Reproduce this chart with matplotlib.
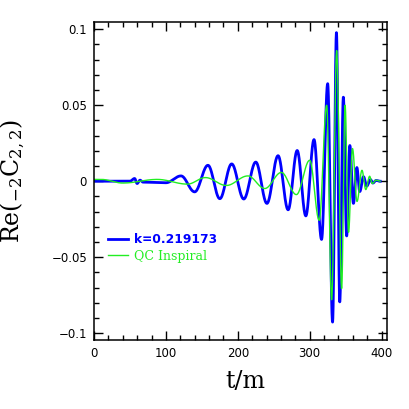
import numpy as np
import matplotlib
matplotlib.use("Agg")
import matplotlib.pyplot as plt
from matplotlib.ticker import MultipleLocator, FixedLocator

plt.rcParams["mathtext.fontset"] = "dejavuserif"

# extrema (t, Re value)
t_k = [0, 50, 56.5, 60, 64, 68, 100, 121, 140, 158.5, 175, 191.5, 208.3,
       225, 240.5, 256, 270, 282.6, 294.6, 306, 316.5, 325, 331.8, 337.2,
       341.8, 346.8, 351.4, 355.8, 360.8, 365.6, 369.6, 374.8, 379.3,
       384.5, 387.8, 392.3, 398]
re_k = [0.0, 0.0, 0.0018, -0.0015, 0.0007, -0.0006, -0.0010, 0.0035,
        -0.0070, 0.0105, -0.0115, 0.0114, -0.0117, 0.0126, -0.0146,
        0.0168, -0.0188, 0.0202, -0.0228, 0.0274, -0.0383, 0.0642,
        -0.0927, 0.0978, -0.0794, 0.0553, -0.0360, 0.0235, -0.0146,
        0.0090, -0.0068, 0.0030, -0.0032, 0.0011, -0.0012, 0.0005, 0.0]

t_qc = [0, 10, 40, 88, 130, 155, 184, 214, 237.5, 260.6, 281.5, 300,
        313.2, 323.6, 330.5, 337.5, 344.4, 349.2, 354, 359.5, 365.8,
        372.7, 378, 383.3, 387, 392.3, 398]
re_qc = [0.0012, 0.0012, -0.0012, 0.0012, -0.0019, 0.0024, -0.0028,
         0.0035, -0.0048, 0.0058, -0.0088, 0.0138, -0.0257, 0.0500,
         -0.0780, 0.0860, -0.0706, 0.0500, -0.0336, 0.0215, -0.0133,
         0.0072, -0.0055, 0.0033, -0.0015, 0.0007, 0.0]

label_k = "k=0.219173"
label_qc = "QC Inspiral"

x_ticks = [0, 100, 200, 300, 400]
y_ticks = [-0.1, -0.05, 0, 0.05, 0.1]
y_ticklabels = ["\u22120.1", "\u22120.05", "0", "0.05", "0.1"]


def suave(tt, vv, n=40):
    # liga os extremos com meias ondas de cosseno
    xs, ys = [], []
    for i in range(len(tt) - 1):
        s = np.linspace(0, 1, n, endpoint=False)
        xs.append(tt[i] + (tt[i + 1] - tt[i]) * s)
        ys.append(vv[i] + (vv[i + 1] - vv[i]) * (1 - np.cos(np.pi * s)) / 2)
    xs.append([tt[-1]])
    ys.append([vv[-1]])
    return np.concatenate(xs), np.concatenate(ys)


fig = plt.figure(figsize=(4.09, 4.09), dpi=100)
ax = fig.add_axes([0.2298, 0.1687, 0.7164, 0.7775])

xk, yk = suave(t_k, re_k)
xq, yq = suave(t_qc, re_qc)

ax.plot(xk, yk, color="#0000ff", lw=2.0, label=label_k)
ax.plot(xq, yq, color="#22ee22", lw=1.0, label=label_qc)

ax.set_xlim(0, 407.5)
ax.set_ylim(-0.1045, 0.1048)

ax.xaxis.set_major_locator(FixedLocator(x_ticks))
ax.xaxis.set_minor_locator(MultipleLocator(20))
ax.yaxis.set_major_locator(FixedLocator(y_ticks))
ax.yaxis.set_minor_locator(MultipleLocator(0.01))
ax.set_yticklabels(y_ticklabels)

ax.tick_params(which="both", direction="in", top=True, right=True,
               width=1.0, labelsize=8.5, pad=5)
ax.tick_params(which="major", length=6.5)
ax.tick_params(which="minor", length=3.3)
for sp in ax.spines.values():
    sp.set_linewidth(1.1)

ax.set_xlabel("t/m", family="DejaVu Serif", fontsize=17)
ax.xaxis.set_label_coords(0.515, -0.095)
ax.set_ylabel(r"$\mathrm{Re}(_{-2}\mathrm{C}_{2,2})$", fontsize=17)
ax.yaxis.set_label_coords(-0.228, 0.5)

leg = ax.legend(loc="center left", bbox_to_anchor=(0.048, 0.29),
                frameon=False, borderpad=0, borderaxespad=0,
                handlelength=1.6, handletextpad=0.45, labelspacing=0.3,
                fontsize=9)
txt = leg.get_texts()
txt[0].set_color("#0000ff")
txt[0].set_fontweight("bold")
txt[0].set_fontsize(8.8)
txt[1].set_color("#22ee22")
txt[1].set_family("DejaVu Serif")
txt[1].set_fontsize(9)

fig.savefig("out.png", dpi=100)
plt.close(fig)
